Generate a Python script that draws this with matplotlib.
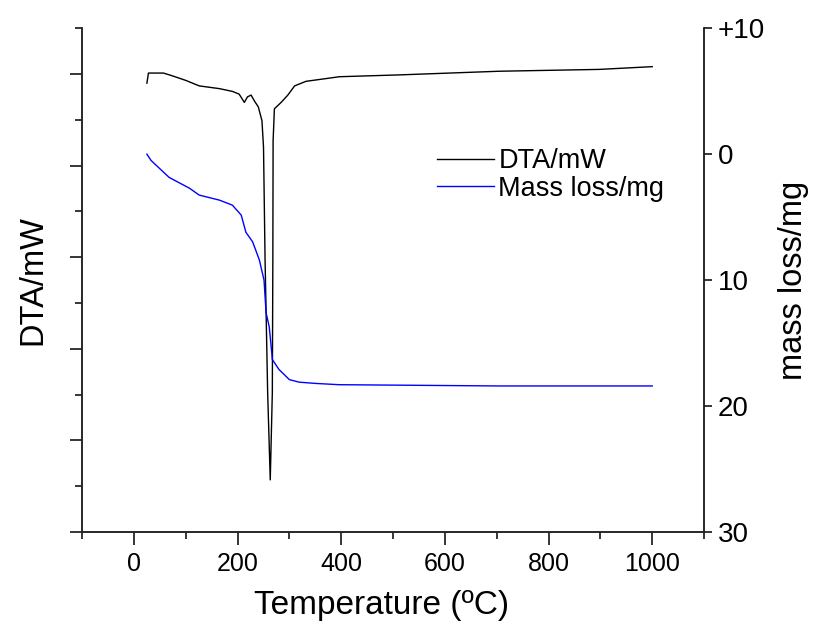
import matplotlib
matplotlib.use("Agg")
import matplotlib.pyplot as plt
from matplotlib.ticker import MultipleLocator, FixedLocator

plt.rcParams['font.family'] = ['Liberation Sans', 'DejaVu Sans']

# DTA curve (arbitrary units, left axis has no labels)
dta_temp = [25, 28, 57, 74, 100, 126, 165, 190, 203, 213, 219, 226, 232, 240,
            247, 250, 253, 258, 263, 267, 268, 268.5, 271, 284, 297, 310, 332,
            371, 396, 512, 705, 898, 1000]
dta_val = [4.90, 5.01, 5.01, 4.98, 4.93, 4.87, 4.84, 4.81, 4.78, 4.69, 4.75, 4.77,
           4.71, 4.64, 4.49, 4.20, 2.97, 1.52, 0.57, 1.52, 2.97, 4.27, 4.62,
           4.69, 4.77, 4.87, 4.92, 4.95, 4.97, 4.99, 5.03, 5.05, 5.08]

# mass loss curve (mg, right axis, inverted)
mass_temp = [25, 33, 68, 107, 126, 165, 190, 207, 216, 229, 242, 251, 255,
             261, 266, 267, 280, 300, 319, 351, 396, 705, 1000]
mass_val = [0.0, 0.5, 1.85, 2.7, 3.25, 3.65, 4.05, 4.84, 6.2, 6.96, 8.4, 10.0,
            12.6, 13.7, 15.8, 16.3, 17.1, 17.9, 18.1, 18.2, 18.3, 18.4, 18.4]

right_ticks = [-10, 0, 10, 20, 30]
right_labels = ["+10", "0", "10", "20", "30"]

fig = plt.figure(figsize=(8.13, 6.26), dpi=100)
ax = fig.add_axes([0.101, 0.150, 0.765, 0.805])
ax2 = ax.twinx()

l1, = ax.plot(dta_temp, dta_val, color="black", lw=1.0, label="DTA/mW")
l2, = ax2.plot(mass_temp, mass_val, color="blue", lw=1.0, label="Mass loss/mg")

ax.set_xlim(-100, 1100)
ax.set_ylim(0, 5.5)
ax2.set_ylim(30, -10)

ax.xaxis.set_major_locator(MultipleLocator(200))
ax.xaxis.set_minor_locator(MultipleLocator(100))
ax.yaxis.set_major_locator(MultipleLocator(1))
ax.yaxis.set_minor_locator(MultipleLocator(0.5))
ax.set_yticklabels([])
ax2.yaxis.set_major_locator(FixedLocator(right_ticks))
ax2.set_yticklabels(right_labels)

for a in (ax, ax2):
    a.spines['top'].set_visible(False)
    for s in a.spines.values():
        s.set_linewidth(1.1)
        s.set_color("#222222")

ax.tick_params(axis='x', which='major', direction='out', length=9, width=1.1,
               labelsize=18, pad=5)
ax.tick_params(axis='x', which='minor', direction='out', length=5, width=1.1)
ax.tick_params(axis='y', which='major', direction='out', length=9, width=1.1)
ax.tick_params(axis='y', which='minor', direction='out', length=5, width=1.1)
ax2.tick_params(axis='y', which='major', direction='out', length=6, width=1.1,
                labelsize=20, pad=4)

ax.set_xlabel("Temperature (ºC)", fontsize=24, labelpad=10)
ax.xaxis.set_label_coords(0.482, -0.115)
ax.set_ylabel("DTA/mW", fontsize=23.5, labelpad=12)
ax2.set_ylabel("mass loss/mg", fontsize=23.5, labelpad=9)

ax.legend(handles=[l1, l2], loc='upper left', bbox_to_anchor=(0.531, 0.81),
          frameon=False, fontsize=19.5, handlelength=2.1, handletextpad=0.18,
          labelspacing=0.05)

fig.savefig("out.png", dpi=100)
